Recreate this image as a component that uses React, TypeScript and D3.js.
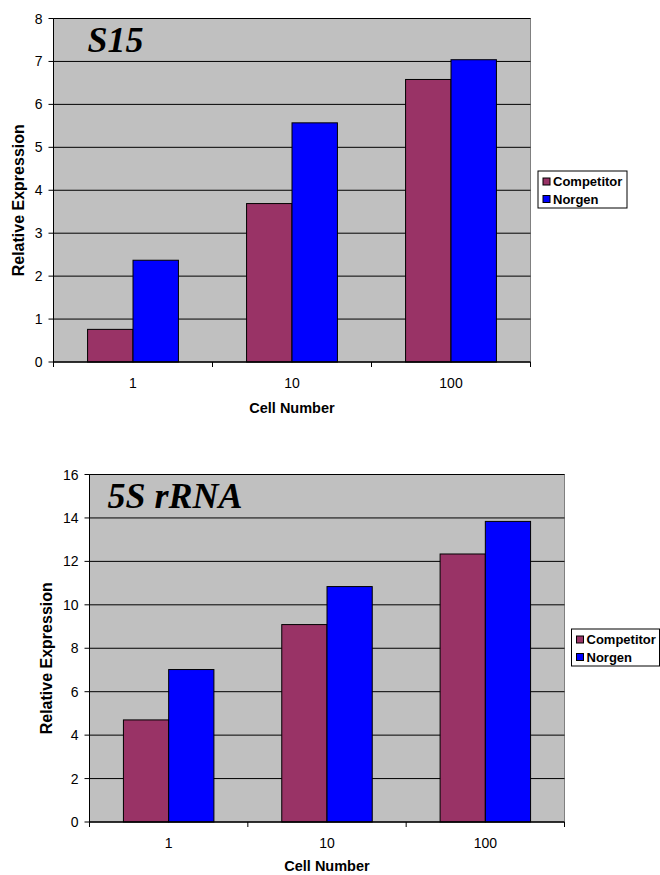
import React from "react";
import * as d3 from "d3";

const categories = ["1", "10", "100"];
const seriesNames = ["Competitor", "Norgen"];
const seriesColors = ["#993366", "#0000FF"];

const s15Competitor = [0.76, 3.69, 6.58];
const s15Norgen = [2.37, 5.57, 7.04];
const s15Ticks = [0, 1, 2, 3, 4, 5, 6, 7, 8];

const rnaCompetitor = [4.7, 9.09, 12.34];
const rnaNorgen = [7.02, 10.84, 13.84];
const rnaTicks = [0, 2, 4, 6, 8, 10, 12, 14, 16];

type ChartProps = {
  title: string;
  series: number[][];
  ticks: number[];
  box: { left: number; top: number; right: number; bottom: number };
  titleOffset: number;
  yLabelX: number;
  xTitleGap: number;
  legend: { x: number; y: number; w: number; h: number };
};

function Chart({ title, series, ticks, box, titleOffset, yLabelX, xTitleGap, legend }: ChartProps) {
  const { left, top, right, bottom } = box;
  const y = d3
    .scaleLinear()
    .domain([0, d3.max(ticks) as number])
    .range([bottom, top]);
  const x0 = d3
    .scaleBand<string>()
    .domain(categories)
    .range([left, right])
    .paddingInner(0)
    .paddingOuter(0);
  const cw = x0.bandwidth();
  const barW = cw / 3.5;
  const bounds = d3.range(categories.length + 1).map((i) => left + i * cw);
  const font = "'Liberation Sans', Arial, sans-serif";

  return (
    <g>
      <rect x={left} y={top} width={right - left} height={bottom - top} fill="#C0C0C0" stroke="#808080" strokeWidth={1} />
      {ticks.slice(1).map((t) => (
        <line key={t} x1={left} x2={right} y1={y(t)} y2={y(t)} stroke="#000" strokeWidth={1} />
      ))}
      {categories.map((c, ci) =>
        series.map((vals, si) => {
          const bx = (x0(c) as number) + (cw - 2 * barW) / 2 + si * barW;
          return (
            <rect
              key={c + si}
              x={bx}
              y={y(vals[ci])}
              width={barW}
              height={bottom - y(vals[ci])}
              fill={seriesColors[si]}
              stroke="#000"
              strokeWidth={1}
            />
          );
        })
      )}
      <line x1={left} x2={left} y1={top} y2={bottom} stroke="#000" strokeWidth={1} />
      <line x1={left} x2={right} y1={bottom} y2={bottom} stroke="#000" strokeWidth={1.5} />
      {ticks.map((t) => (
        <g key={"t" + t}>
          <line x1={left - 5} x2={left} y1={y(t)} y2={y(t)} stroke="#000" />
          <text x={left - 11} y={y(t)} dy="0.36em" textAnchor="end" fontFamily={font} fontSize={14} fill="#000">
            {t}
          </text>
        </g>
      ))}
      {bounds.map((b, i) => (
        <line key={"b" + i} x1={b} x2={b} y1={bottom} y2={bottom + 5} stroke="#000" />
      ))}
      {categories.map((c) => (
        <text key={"c" + c} x={(x0(c) as number) + cw / 2} y={bottom + 26} textAnchor="middle" fontFamily={font} fontSize={14} fill="#000">
          {c}
        </text>
      ))}
      <text x={(left + right) / 2} y={bottom + xTitleGap} textAnchor="middle" fontFamily={font} fontSize={14.5} fontWeight="bold" fill="#000">
        Cell Number
      </text>
      <text
        transform={`translate(${yLabelX},${(top + bottom) / 2 + 10}) rotate(-90)`}
        textAnchor="middle"
        dy="0.36em"
        fontFamily={font}
        fontSize={16}
        fontWeight="bold"
        fill="#000"
      >
        Relative Expression
      </text>
      <text
        x={left + titleOffset}
        y={top + 33}
        fontFamily="'Liberation Serif', 'Times New Roman', serif"
        fontSize={36}
        fontWeight="bold"
        fontStyle="italic"
        fill="#000"
      >
        {title}
      </text>
      <rect x={legend.x} y={legend.y} width={legend.w} height={legend.h} fill="#fff" stroke="#000" strokeWidth={1} />
      {seriesNames.map((n, i) => (
        <g key={n}>
          <rect x={legend.x + 5} y={legend.y + 7 + i * 17.5} width={7} height={7} fill={seriesColors[i]} stroke="#000" strokeWidth={1} />
          <text x={legend.x + 15} y={legend.y + 10.5 + i * 17.5} dy="0.36em" fontFamily={font} fontSize={13} fontWeight="bold" fill="#000">
            {n}
          </text>
        </g>
      ))}
    </g>
  );
}

export default function App() {
  return (
    <svg width={660} height={875} style={{ position: "absolute", left: 0, top: 0, background: "#fff" }}>
      <Chart
        title="S15"
        series={[s15Competitor, s15Norgen]}
        ticks={s15Ticks}
        box={{ left: 53.5, top: 18.5, right: 530.5, bottom: 362 }}
        titleOffset={34}
        yLabelX={18}
        xTitleGap={51}
        legend={{ x: 538, y: 171, w: 89, h: 37 }}
      />
      <Chart
        title="5S rRNA"
        series={[rnaCompetitor, rnaNorgen]}
        ticks={rnaTicks}
        box={{ left: 89.5, top: 474.5, right: 564.5, bottom: 822 }}
        titleOffset={18}
        yLabelX={46}
        xTitleGap={49}
        legend={{ x: 571.5, y: 629, w: 88, h: 37 }}
      />
    </svg>
  );
}
